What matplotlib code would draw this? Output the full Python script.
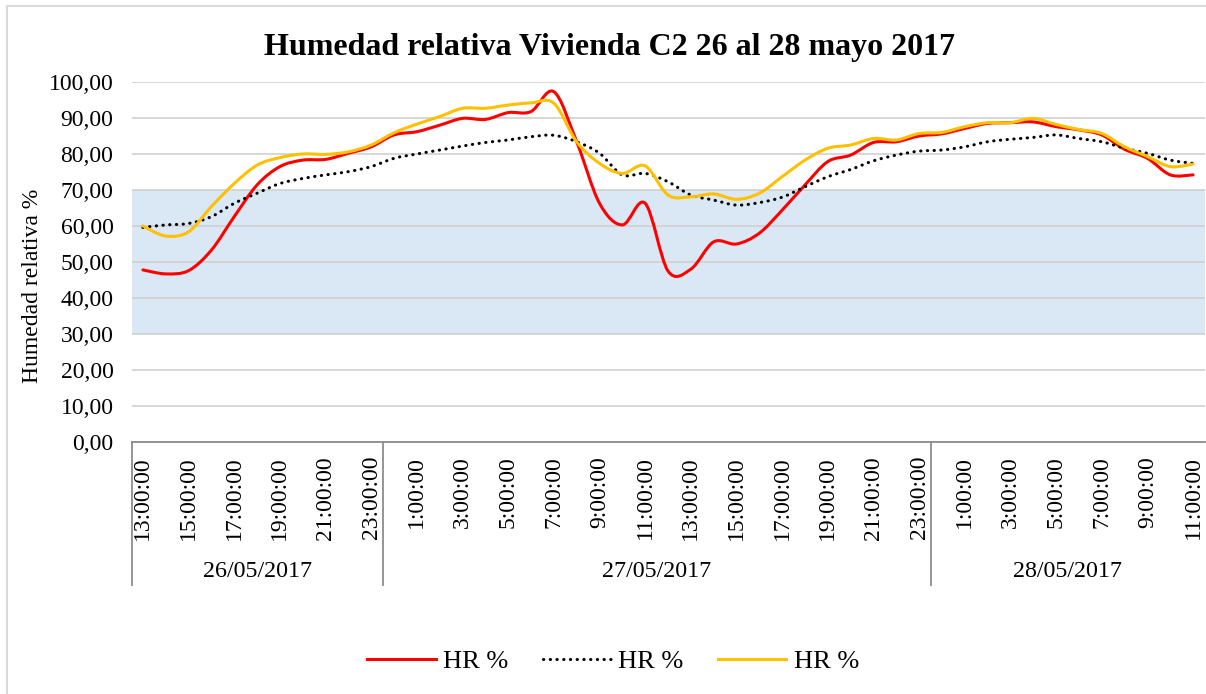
import numpy as np
import matplotlib.pyplot as plt
from matplotlib.path import Path
from matplotlib.patches import PathPatch, Rectangle
from matplotlib.lines import Line2D
import matplotlib.transforms as mtransforms

plt.rcParams['font.family'] = ['Liberation Serif', 'DejaVu Serif']

# horas registradas por dia
dias = ['26/05/2017', '27/05/2017', '28/05/2017']
horas = [list(range(13, 24)), list(range(0, 24)), list(range(0, 12))]

hr_rojo = [47.8, 46.7, 47.6, 53.3, 62.6, 71.4, 76.5, 78.3, 78.5, 80.2, 82.0,
           85.3, 86.2, 88.0, 89.9, 89.6, 91.5, 91.8, 97.3, 83.4, 66.3, 60.3,
           66.3, 47.5, 48.0, 55.6, 55.0, 58.0, 64.4, 71.4, 77.9, 79.7, 83.2,
           83.4, 85.0, 85.6, 87.1, 88.5, 88.7, 88.9, 87.6, 86.7, 85.3, 81.3,
           78.8, 74.2, 74.2]
hr_punteado = [59.6, 60.3, 60.7, 62.6, 66.3, 69.1, 71.8, 73.2, 74.2, 75.1, 76.5,
               78.8, 80.0, 81.1, 82.2, 83.2, 83.9, 84.8, 85.2, 83.4, 80.2, 74.2,
               74.6, 72.3, 68.6, 67.2, 65.8, 66.5, 68.0, 70.9, 73.7, 75.7, 78.1,
               79.7, 80.8, 81.1, 82.0, 83.4, 84.1, 84.6, 85.3, 84.3, 83.4, 81.6,
               80.2, 78.3, 77.4]
hr_amarillo = [60.0, 57.2, 58.4, 65.4, 71.8, 76.9, 79.0, 80.0, 79.9, 80.6, 82.5,
               85.9, 88.3, 90.4, 92.7, 92.7, 93.6, 94.2, 94.1, 83.4, 77.4, 74.6,
               76.7, 68.6, 68.1, 68.9, 67.4, 69.1, 73.7, 78.3, 81.6, 82.5, 84.3,
               83.9, 85.7, 86.0, 87.6, 88.7, 88.7, 89.9, 88.2, 86.8, 85.7, 82.0,
               79.3, 76.5, 77.2]


def curva_suave(x, y):
    # linea suavizada tipo Excel: segmentos Bezier que pasan por cada punto
    p = np.column_stack([x, y]).astype(float)
    ext = np.vstack([p[0], p, p[-1]])
    verts = [p[0]]
    codes = [Path.MOVETO]
    for i in range(len(p) - 1):
        p0, p1, p2, p3 = ext[i], ext[i + 1], ext[i + 2], ext[i + 3]
        verts += [p1 + (p2 - p0) / 6, p2 - (p3 - p1) / 6, p2]
        codes += [Path.CURVE4] * 3
    return Path(verts, codes)


fig = plt.figure(figsize=(12.06, 6.94), dpi=100)
ax = fig.add_axes([131.5 / 1206, 252 / 694, 1073 / 1206, 360 / 694])

x = np.arange(len(hr_rojo))
ax.set_xlim(-0.5, len(x) - 0.5)
ax.set_ylim(0, 100)

ax.axhspan(30, 70, color='#DAE7F4', zorder=0.2, lw=0)
ax.set_yticks(np.arange(0, 101, 10))
ax.set_yticklabels([f'{v:.2f}'.replace('.', ',') for v in range(0, 101, 10)])
ax.grid(axis='y', color='#D0D0D0', lw=1.2, zorder=0.5)
ax.set_axisbelow(True)

series = [(hr_rojo, '#FF0000', '-'), (hr_punteado, '#000000', (0, (0.1, 2.1))),
          (hr_amarillo, '#FFC000', '-')]
handles = []
for vals, color, ls in series:
    patch = PathPatch(curva_suave(x, vals), fill=False, edgecolor=color, lw=2.2,
                      linestyle=ls, capstyle='round', zorder=3)
    ax.add_patch(patch)
    handles.append(Line2D([], [], color=color, lw=2.2, linestyle=ls,
                          dash_capstyle='round'))

# etiquetas de hora (cada dos horas)
etiquetas = [f'{h}:00:00' for d in horas for h in d]
ax.set_xticks(x[::2])
ax.set_xticklabels(etiquetas[::2], rotation=90, fontsize=17)
ax.tick_params(axis='x', length=0, pad=10)
ax.tick_params(axis='y', length=0, pad=13, labelsize=17)

for s in ['left', 'right', 'top']:
    ax.spines[s].set_visible(False)
ax.spines['bottom'].set_color('#8C8C8C')
ax.spines['bottom'].set_linewidth(1.3)

# separadores y fechas del eje de categorias
trans = mtransforms.blended_transform_factory(ax.transData, ax.transAxes)
inicio = -0.5
for dia, hs in zip(dias, horas):
    fin = inicio + len(hs)
    ax.add_line(Line2D([inicio, inicio], [0, -0.397], transform=trans,
                       color='#8C8C8C', lw=1.3, clip_on=False))
    ax.text((inicio + fin) / 2, -0.361, dia, transform=trans, ha='center',
            va='center', fontsize=17.3)
    inicio = fin

fig.text(610 / 1206, 1 - 47 / 694, 'Humedad relativa Vivienda C2 26 al 28 mayo 2017',
         ha='center', va='center', fontsize=23, fontweight='bold')
fig.text(33 / 1206, 1 - 286 / 694, 'Humedad relativa %', rotation=90,
         ha='center', va='center', fontsize=17)

fig.legend(handles, ['HR %', 'HR %', 'HR %'], loc='center',
           bbox_to_anchor=(613 / 1206, 1 - 661 / 694), ncol=3, frameon=False,
           fontsize=19, handlelength=2.6, columnspacing=1.3, handletextpad=0.27)

fig.add_artist(Rectangle((7 / 1206, -0.1), 1.2, 1.1 - 6 / 694, transform=fig.transFigure,
                         fill=False, edgecolor='#D9D9D9', lw=1.5))

fig.savefig('out.png', dpi=100)
